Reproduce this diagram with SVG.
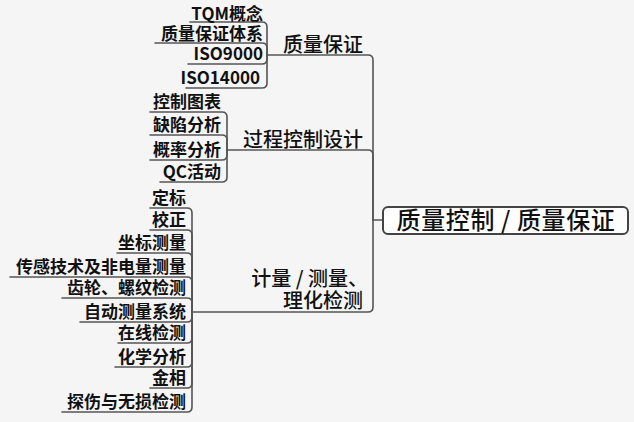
<svg xmlns="http://www.w3.org/2000/svg" width="634" height="422" viewBox="0 0 634 422">
<style>
.bg{fill:#f5f5f5}
.ln{fill:none;stroke:#555;stroke-width:1.6;stroke-linecap:round;stroke-linejoin:round}
.c{font-family:"Noto Sans CJK SC","Liberation Sans",sans-serif;font-size:17px;font-weight:700;fill:#111;text-anchor:end}
.b{font-family:"Noto Sans CJK SC","Liberation Sans",sans-serif;font-size:20px;font-weight:500;fill:#111;text-anchor:end}
.r{font-family:"Noto Sans CJK SC","Liberation Sans",sans-serif;font-size:24px;font-weight:500;fill:#111;text-anchor:middle;letter-spacing:0.6px}
</style>
<rect class="bg" x="0" y="0" width="634" height="422"/>
<g id="connectors">
<path class="ln" d="M267,55 H368 Q373,55 373,60 V220"/>
<path class="ln" d="M227,150 H368 Q373,150 373,155 V220"/>
<path class="ln" d="M192,312 H368 Q373,312 373,307 V220"/>
<path class="ln" d="M373,220 H383"/>
<path class="ln" d="M190,22 H262 Q267,22 267,27 V55"/>
<path class="ln" d="M155,43 H262 Q267,43 267,48 V55"/>
<path class="ln" d="M188,64 H262 Q267,64 267,59 V55"/>
<path class="ln" d="M186,88 H262 Q267,88 267,83 V55"/>
<path class="ln" d="M150,112 H222 Q227,112 227,117 V150"/>
<path class="ln" d="M150,135 H222 Q227,135 227,140 V150"/>
<path class="ln" d="M150,160 H222 Q227,160 227,155 V150"/>
<path class="ln" d="M160,182 H222 Q227,182 227,177 V150"/>
<path class="ln" d="M150,208 H187 Q192,208 192,213 V312"/>
<path class="ln" d="M150,230 H187 Q192,230 192,235 V312"/>
<path class="ln" d="M117,253 H187 Q192,253 192,258 V312"/>
<path class="ln" d="M10,277 H187 Q192,277 192,282 V312"/>
<path class="ln" d="M62,298 H187 Q192,298 192,303 V312"/>
<path class="ln" d="M80,322 H187 Q192,322 192,317 V312"/>
<path class="ln" d="M118,343 H187 Q192,343 192,338 V312"/>
<path class="ln" d="M115,367 H187 Q192,367 192,362 V312"/>
<path class="ln" d="M150,388 H187 Q192,388 192,383 V312"/>
<path class="ln" d="M62,412 H187 Q192,412 192,407 V312"/>
</g>
<g id="root">
<rect x="383" y="207" width="245" height="27" rx="5" fill="#fff" stroke="#444" stroke-width="2"/>
<text class="r" x="506" y="229">质量控制 / 质量保证</text>
</g>
<g id="b1"><text class="b" x="363" y="52">质量保证</text></g>
<g id="b1c1"><text class="c" x="263" y="20">TQM概念</text></g>
<g id="b1c2"><text class="c" x="263" y="40">质量保证体系</text></g>
<g id="b1c3"><text class="c" x="263" y="60">ISO9000</text></g>
<g id="b1c4"><text class="c" x="260" y="84">ISO14000</text></g>
<g id="b2"><text class="b" x="363" y="147">过程控制设计</text></g>
<g id="b2c1"><text class="c" x="221" y="108">控制图表</text></g>
<g id="b2c2"><text class="c" x="221" y="131">缺陷分析</text></g>
<g id="b2c3"><text class="c" x="221" y="156">概率分析</text></g>
<g id="b2c4"><text class="c" x="221" y="178">QC活动</text></g>
<g id="b3"><text class="b" x="368" y="286">计量 / 测量、</text><text class="b" x="363" y="308">理化检测</text></g>
<g id="b3c1"><text class="c" x="186" y="204">定标</text></g>
<g id="b3c2"><text class="c" x="186" y="226">校正</text></g>
<g id="b3c3"><text class="c" x="186" y="249">坐标测量</text></g>
<g id="b3c4"><text class="c" x="186" y="273">传感技术及非电量测量</text></g>
<g id="b3c5"><text class="c" x="186" y="294">齿轮、螺纹检测</text></g>
<g id="b3c6"><text class="c" x="186" y="318">自动测量系统</text></g>
<g id="b3c7"><text class="c" x="186" y="339">在线检测</text></g>
<g id="b3c8"><text class="c" x="186" y="363">化学分析</text></g>
<g id="b3c9"><text class="c" x="186" y="384">金相</text></g>
<g id="b3c10"><text class="c" x="186" y="408">探伤与无损检测</text></g>
</svg>
